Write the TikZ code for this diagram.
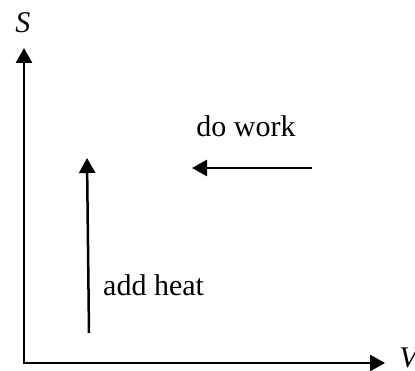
\documentclass[tikz,border=0pt]{standalone}
\usepackage{fontspec}
\setmainfont{Liberation Serif}
\usetikzlibrary{arrows.meta}
\begin{document}
\begin{tikzpicture}[x=1pt,y=-1pt,
  arr/.style={line width=2.5pt,-{Triangle[length=15pt,width=16pt]}},
  lbl/.style={inner sep=0pt,font=\fontsize{30}{36}\selectfont}]
\useasboundingbox (0,0) rectangle (415,371);
\coordinate (O) at (24,363);
\coordinate (Stip) at (24,48);
\coordinate (Vtip) at (385,363);
\coordinate (h0) at (89,333);
\coordinate (h1) at (87,158);
\coordinate (w0) at (312,168);
\coordinate (w1) at (192,168);
\draw[arr] (O) -- (Stip);
\draw[arr] ([xshift=-1.25pt]O) -- (Vtip);
\draw[arr] (h0) -- (h1);
\draw[arr] (w0) -- (w1);
\node[lbl] (S) at (23,23) {\textit{S}};
\node[lbl] (V) at (410,358) {\textit{V}};
\node[lbl,anchor=base] (work) at (246,137) {do work};
\node[lbl,anchor=base west] (heat) at (103,296) {add heat};
\end{tikzpicture}
\end{document}
